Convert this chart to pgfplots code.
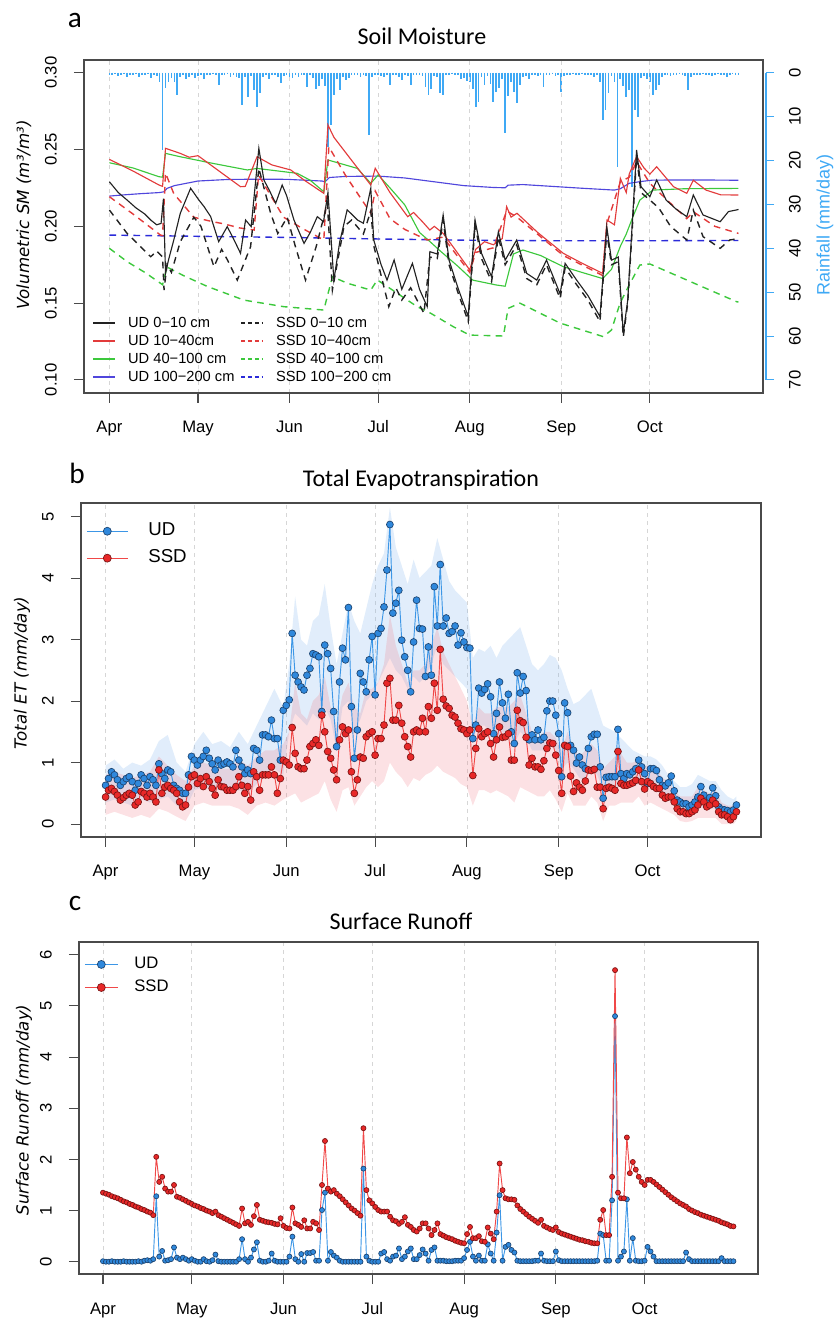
\documentclass[border=0pt]{standalone}
\usepackage{fontspec}
\setmainfont{Liberation Sans}
\newfontfamily\carl{Carlito}
\newfontfamily\dvs{DejaVu Sans}
\usepackage{pgfplots}
\pgfplotsset{compat=1.18}
\usepackage{pgfplotstable}

\definecolor{boxc}{HTML}{4A4A4A}
\definecolor{gridc}{HTML}{D6D6D6}
\definecolor{rainc}{HTML}{3FA9F5}
\definecolor{smblack}{HTML}{222222}
\definecolor{smred}{HTML}{E23B3B}
\definecolor{smgreen}{HTML}{3CC83C}
\definecolor{smblue}{HTML}{5046DC}
\definecolor{smdblue}{HTML}{2B2BD9}
\definecolor{udfill}{HTML}{2F88DC}
\definecolor{udedge}{HTML}{1D4470}
\definecolor{udline}{HTML}{3C96E6}
\definecolor{ssdfill}{HTML}{E82828}
\definecolor{ssdedge}{HTML}{7A1414}
\definecolor{ssdline}{HTML}{F04848}
\definecolor{udband}{HTML}{78AFEB}
\definecolor{ssdband}{HTML}{F07882}

\pgfplotsset{
  rbase/.style={
    scale only axis, anchor=south west,
    axis line style={boxc, line width=1pt},
    tick align=outside, major tick length=7.5pt,
    tick style={boxc, line width=0.8pt},
    xtick pos=bottom, ytick pos=left,
    xtick={0,30,61,91,122,153,183},
    xticklabels={Apr,May,Jun,Jul,Aug,Sep,Oct},
    xmajorgrids, major grid style={gridc, dash pattern=on 3pt off 3pt, line width=0.6pt},
    ticklabel style={font=\fontsize{12.5}{14}\selectfont},
    xticklabel style={anchor=base, yshift=-22.5pt},
    yticklabel style={anchor=base, xshift=-13pt, rotate=90},
  },
  udp/.style={color=udline, line width=0.7pt, mark=*, mark options={fill=udfill, draw=udedge, line width=0.5pt, solid}},
  ssdp/.style={color=ssdline, line width=0.7pt, mark=*, mark options={fill=ssdfill, draw=ssdedge, line width=0.5pt, solid}},
  lgsol/.style={legend image code/.code={\draw[draw=#1, color=#1, line width=1.4pt, solid] (0pt,0pt) -- (16pt,0pt);}},
  lgdas/.style={legend image code/.code={\draw[draw=#1, color=#1, line width=1.4pt, dash pattern=on 2.8pt off 2.3pt] (0pt,0pt) -- (16pt,0pt);}},
  lgmk/.style n args={4}{legend image code/.code={\draw[draw=#1, line width=0.8pt] (0pt,0pt) -- (#4,0pt); \path[fill=#2, draw=#3, line width=0.5pt] (0.5*#4,0pt) circle (3.0pt);}},
  lgbox/.style={
    at={(63pt,696pt)}, anchor=south west, scale only axis,
    width=509.25pt, height=249.75pt, hide axis,
    xmin=-8.6, xmax=221.3, ymin=0.0915, ymax=0.3083,
    legend cell align=left,
    legend style={anchor=north west, draw=none, fill=none, inner sep=0pt,
      font=\fontsize{11}{13}\selectfont, row sep=0pt,
      nodes={inner ysep=1.5pt, inner xsep=3.5pt, text height=8pt, text depth=2.5pt},
      /tikz/every odd column/.append style={column sep=6pt}},
  },
}

\pgfplotstableread{
d r
0 0.5
1 0.6
2 0.4
3 0.8
4 0.5
5 0.3
6 1.0
7 0.5
8 0.6
9 0.4
10 0.9
11 0.5
12 0.6
13 0.4
14 1.2
15 0.5
16 0.8
17 2.0
18 17.5
19 3.5
20 2.2
21 1.3
22 2.0
23 5.1
24 1.0
25 0.5
26 1.5
27 0.9
28 0.5
29 1.2
30 0.8
31 0.5
32 1.5
33 0.5
34 0.6
35 0.4
36 0.5
37 2.8
38 0.6
39 0.5
40 0.4
41 1.0
42 0.5
43 0.9
44 1.2
45 7.4
46 1.0
47 5.5
48 0.8
49 4.0
50 7.7
51 4.7
52 1.0
53 0.5
54 1.5
55 0.6
56 0.5
57 1.0
58 2.4
59 0.8
60 0.5
61 0.9
62 1.3
63 0.6
64 1.0
65 0.5
66 0.6
67 3.2
68 0.5
69 1.2
70 3.6
71 3.0
72 1.5
73 3.0
74 17.0
75 12.0
76 5.0
77 1.5
78 4.0
79 1.0
80 1.7
81 1.2
82 0.5
83 0.6
84 0.5
85 1.0
86 0.5
87 0.8
88 14.2
89 1.0
90 0.5
91 0.6
92 0.8
93 1.0
94 0.5
95 2.8
96 0.6
97 0.5
98 1.0
99 1.7
100 0.5
101 0.8
102 2.8
103 0.5
104 0.6
105 0.5
106 0.8
107 3.2
108 5.1
109 3.6
110 0.8
111 1.0
112 4.7
113 5.1
114 0.5
115 0.6
116 0.4
117 0.5
118 0.6
119 1.5
120 1.2
121 1.8
122 2.0
123 3.6
124 7.7
125 6.6
126 1.0
127 2.8
128 0.8
129 2.5
130 6.6
131 4.3
132 3.5
133 1.5
134 13.8
135 5.2
136 2.0
137 4.5
138 7.0
139 2.8
140 1.0
141 0.8
142 1.5
143 0.6
144 0.5
145 0.8
146 0.5
147 3.2
148 0.6
149 0.5
150 0.4
151 0.8
152 0.5
153 4.3
154 0.8
155 0.5
156 0.6
157 0.4
158 0.5
159 0.6
160 0.4
161 0.5
162 0.6
163 0.5
164 1.0
165 0.6
166 2.0
167 10.8
168 8.5
169 4.7
170 0.8
171 2.0
172 21.5
173 1.5
174 3.0
175 5.5
176 4.0
177 26.0
178 8.5
179 10.0
180 1.2
181 0.8
182 1.5
183 2.0
184 5.1
185 4.0
186 2.8
187 1.0
188 0.6
189 0.5
190 0.8
191 0.5
192 0.6
193 0.4
194 0.5
195 0.8
196 4.0
197 1.0
198 0.5
199 0.6
200 0.5
201 0.4
202 0.5
203 0.6
204 0.8
205 0.5
206 0.4
207 0.6
208 0.5
209 0.9
210 0.5
211 0.4
212 0.6
213 0.5
}\raintab

\pgfplotstableread{
d ud ssd
0 0.63 0.44
1 0.74 0.55
2 0.85 0.58
3 0.80 0.53
4 0.72 0.47
5 0.63 0.39
6 0.69 0.43
7 0.74 0.47
8 0.77 0.50
9 0.69 0.47
10 0.55 0.31
11 0.66 0.36
12 0.80 0.53
13 0.74 0.50
14 0.63 0.44
15 0.77 0.50
16 0.72 0.44
17 0.63 0.36
18 0.98 0.88
19 0.82 0.50
20 0.74 0.60
21 0.88 0.63
22 0.85 0.58
23 0.63 0.55
24 0.58 0.50
25 0.55 0.36
26 0.50 0.28
27 0.50 0.31
28 0.80 0.60
29 1.10 0.77
30 1.04 0.80
31 0.96 0.66
32 1.04 0.74
33 1.10 0.61
34 1.20 0.77
35 1.07 0.69
36 0.98 0.58
37 0.88 0.47
38 1.04 0.72
39 0.96 0.61
40 0.98 0.60
41 1.01 0.55
42 0.98 0.55
43 0.93 0.55
44 1.20 0.61
45 1.04 0.77
46 0.93 0.63
47 0.82 0.50
48 0.88 0.61
49 0.82 0.39
50 1.23 0.85
51 1.20 0.77
52 1.04 0.55
53 1.45 0.80
54 1.45 0.80
55 1.42 0.80
56 1.69 0.93
57 1.39 0.80
58 1.39 0.50
59 1.04 0.74
60 1.85 1.04
61 1.93 1.01
62 2.02 0.96
63 3.10 1.57
64 2.42 1.15
65 2.31 0.93
66 2.23 0.90
67 2.18 0.90
68 2.42 1.04
69 2.53 1.26
70 2.77 1.31
71 2.75 1.37
72 2.72 1.28
73 1.83 1.77
74 2.91 1.50
75 2.77 1.18
76 2.53 1.07
77 1.83 0.88
78 1.26 0.72
79 2.31 1.37
80 2.86 1.58
81 2.67 1.47
82 3.52 1.53
83 1.91 0.85
84 1.07 0.50
85 1.53 0.72
86 2.45 1.09
87 2.31 1.07
88 2.15 1.42
89 2.67 1.47
90 3.05 1.50
91 2.10 1.12
92 3.10 1.39
93 3.18 1.39
94 3.53 1.61
95 4.13 2.29
96 4.87 2.37
97 3.43 1.69
98 3.59 1.69
99 3.80 1.93
100 2.99 1.64
101 2.72 1.42
102 2.50 1.26
103 2.15 1.09
104 2.96 1.50
105 3.64 1.53
106 3.18 1.50
107 3.17 1.72
108 2.40 1.50
109 2.88 1.91
110 2.42 1.72
111 3.86 2.29
112 3.22 1.85
113 4.22 2.84
114 3.22 2.03
115 3.35 1.92
116 3.10 1.88
117 3.13 1.77
118 3.22 1.74
119 2.91 1.64
120 3.11 1.55
121 2.96 1.53
122 2.87 1.47
123 2.86 1.53
124 1.39 0.79
125 1.61 1.23
126 2.21 1.55
127 2.13 1.42
128 2.19 1.47
129 2.28 1.50
130 2.07 1.31
131 1.47 1.09
132 1.80 1.37
133 2.31 1.58
134 1.97 1.41
135 1.72 1.42
136 2.11 1.47
137 1.50 1.04
138 1.31 1.04
139 2.46 1.85
140 2.13 1.68
141 2.40 1.65
142 2.17 1.41
143 1.37 0.96
144 1.45 1.07
145 1.37 0.93
146 1.53 0.93
147 1.37 0.89
148 1.41 1.03
149 1.84 1.23
150 2.00 1.32
151 2.00 1.31
152 1.77 1.12
153 1.47 0.87
154 0.77 0.50
155 1.97 1.28
156 1.81 1.26
157 1.28 0.78
158 1.20 0.53
159 0.99 0.67
160 1.09 0.60
161 0.96 0.55
162 0.90 0.70
163 1.23 0.88
164 1.42 0.87
165 1.46 0.89
166 1.46 0.60
167 0.93 0.60
168 0.42 0.25
169 0.76 0.58
170 0.77 0.60
171 0.77 0.58
172 0.77 0.55
173 1.54 1.18
174 0.82 0.66
175 0.74 0.63
176 0.82 0.63
177 0.80 0.65
178 0.85 0.67
179 0.90 0.71
180 1.04 0.88
181 0.93 0.69
182 0.82 0.57
183 0.66 0.69
184 0.90 0.66
185 0.90 0.61
186 0.87 0.58
187 0.72 0.58
188 0.63 0.47
189 0.62 0.42
190 0.67 0.44
191 0.78 0.44
192 0.54 0.36
193 0.39 0.25
194 0.36 0.20
195 0.33 0.20
196 0.33 0.17
197 0.28 0.17
198 0.31 0.20
199 0.36 0.23
200 0.44 0.31
201 0.61 0.42
202 0.47 0.36
203 0.36 0.28
204 0.43 0.31
205 0.59 0.39
206 0.46 0.33
207 0.28 0.20
208 0.24 0.15
209 0.23 0.15
210 0.22 0.12
211 0.20 0.07
212 0.23 0.12
213 0.31 0.20
}\ettab

\pgfplotstableread{
d ud ssd
0 0.01 1.35
1 0.00 1.33
2 0.00 1.31
3 0.01 1.28
4 0.00 1.26
5 0.00 1.24
6 0.00 1.21
7 0.01 1.18
8 0.00 1.16
9 0.00 1.13
10 0.00 1.11
11 0.00 1.08
12 0.01 1.06
13 0.00 1.03
14 0.02 1.01
15 0.03 0.98
16 0.02 0.96
17 0.05 0.91
18 1.28 2.05
19 0.10 1.56
20 0.21 1.66
21 0.02 1.43
22 0.03 1.37
23 0.05 1.37
24 0.28 1.50
25 0.08 1.27
26 0.05 1.25
27 0.08 1.22
28 0.05 1.19
29 0.02 1.16
30 0.05 1.13
31 0.02 1.10
32 0.00 1.08
33 0.00 1.05
34 0.05 1.03
35 0.01 1.00
36 0.00 0.98
37 0.03 0.95
38 0.14 0.98
39 0.01 0.91
40 0.00 0.88
41 0.00 0.85
42 0.00 0.82
43 0.00 0.79
44 0.00 0.76
45 0.00 0.73
46 0.05 0.70
47 0.44 1.04
48 0.05 0.75
49 0.00 0.78
50 0.08 0.72
51 0.24 0.89
52 0.38 1.11
53 0.02 0.82
54 0.00 0.80
55 0.00 0.78
56 0.02 0.77
57 0.16 0.76
58 0.02 0.74
59 0.00 0.73
60 0.00 0.85
61 0.00 0.70
62 0.00 0.66
63 0.10 0.65
64 0.49 1.06
65 0.05 0.75
66 0.00 0.72
67 0.15 0.68
68 0.00 0.81
69 0.17 0.65
70 0.17 0.65
71 0.19 0.78
72 0.02 0.75
73 0.02 0.62
74 1.01 1.50
75 1.35 2.36
76 0.02 1.43
77 0.19 1.37
78 0.12 1.40
79 0.08 1.33
80 0.02 1.28
81 0.00 1.22
82 0.00 1.16
83 0.00 1.10
84 0.00 1.04
85 0.00 1.00
86 0.00 0.95
87 0.00 0.90
88 1.82 2.61
89 0.10 1.40
90 0.02 1.20
91 0.00 1.14
92 0.00 1.07
93 0.00 1.01
94 0.16 0.98
95 0.19 0.98
96 0.05 0.98
97 0.02 0.88
98 0.10 0.81
99 0.12 0.79
100 0.26 0.74
101 0.05 0.78
102 0.10 0.87
103 0.20 0.72
104 0.26 0.68
105 0.05 0.62
106 0.05 0.59
107 0.13 0.65
108 0.24 0.75
109 0.16 0.75
110 0.02 0.65
111 0.23 0.52
112 0.28 0.62
113 0.02 0.75
114 0.02 0.54
115 0.02 0.51
116 0.01 0.48
117 0.01 0.46
118 0.01 0.44
119 0.02 0.41
120 0.02 0.39
121 0.02 0.37
122 0.07 0.36
123 0.23 0.54
124 0.39 0.68
125 0.10 0.46
126 0.02 0.46
127 0.12 0.50
128 0.02 0.40
129 0.02 0.39
130 0.34 0.67
131 0.16 0.55
132 0.02 0.44
133 0.57 0.98
134 1.30 1.92
135 0.02 1.40
136 0.29 1.24
137 0.33 1.22
138 0.23 1.22
139 0.18 1.21
140 0.02 1.10
141 0.01 1.03
142 0.01 0.98
143 0.01 0.93
144 0.01 0.88
145 0.01 0.84
146 0.02 0.80
147 0.02 0.76
148 0.16 0.82
149 0.02 0.70
150 0.01 0.67
151 0.01 0.64
152 0.01 0.62
153 0.20 0.67
154 0.03 0.58
155 0.01 0.55
156 0.01 0.53
157 0.01 0.51
158 0.01 0.49
159 0.01 0.47
160 0.01 0.45
161 0.01 0.43
162 0.01 0.42
163 0.01 0.40
164 0.01 0.39
165 0.01 0.37
166 0.01 0.36
167 0.02 0.36
168 0.55 0.82
169 0.52 1.01
170 0.02 0.52
171 0.02 0.52
172 1.20 1.66
173 4.80 5.70
174 0.02 1.35
175 0.10 1.24
176 0.20 1.24
177 1.22 2.43
178 0.02 1.73
179 0.46 1.95
180 0.02 1.80
181 0.01 1.66
182 0.01 1.56
183 0.02 1.50
184 0.29 1.60
185 0.20 1.60
186 0.10 1.56
187 0.01 1.51
188 0.01 1.46
189 0.01 1.41
190 0.01 1.36
191 0.01 1.31
192 0.01 1.26
193 0.01 1.22
194 0.01 1.18
195 0.01 1.14
196 0.01 1.11
197 0.18 1.08
198 0.05 1.03
199 0.01 1.00
200 0.01 0.97
201 0.01 0.95
202 0.01 0.92
203 0.01 0.90
204 0.01 0.88
205 0.01 0.86
206 0.01 0.84
207 0.01 0.82
208 0.01 0.80
209 0.07 0.77
210 0.01 0.75
211 0.01 0.73
212 0.01 0.70
213 0.01 0.69
}\rotab

\begin{document}
\begin{tikzpicture}
\path[use as bounding box] (0,0) rectangle (627pt,990.75pt);

% ---------------- panel a : rainfall (right axis) ----------------
\begin{axis}[
  at={(63pt,696pt)}, anchor=south west, scale only axis,
  width=509.25pt, height=249.75pt,
  xmin=-8.6, xmax=221.3, ymin=-2.905, ymax=72.975, y dir=reverse,
  hide x axis, axis y line*=right, axis y line shift=2.25pt,
  y axis line style={draw=none},
  ytick={0,10,20,30,40,50,60,70}, yticklabels={0,10,20,30,40,50,60,70},
  tick align=outside, major tick length=6pt,
  ytick style={rainc, line width=0.8pt},
  yticklabel style={font=\fontsize{12.5}{14}\selectfont, anchor=base, xshift=20pt, rotate=90},
  clip=false,
]
\addplot[ycomb, rainc, line width=1.3pt, mark=none] table[x=d, y=r] {\raintab};
\draw[rainc, line width=0.8pt] ([xshift=2.25pt]axis cs:221.3,0) -- ([xshift=2.25pt]axis cs:221.3,70);
\end{axis}

% ---------------- panel a : soil moisture ----------------
\begin{axis}[rbase,
  at={(63pt,696pt)}, width=509.25pt, height=249.75pt,
  xmin=-8.6, xmax=221.3, ymin=0.0915, ymax=0.3083,
  ytick={0.10,0.15,0.20,0.25,0.30}, yticklabels={0.10,0.15,0.20,0.25,0.30},
]
% UD 100-200
\addplot[color=smblue, line width=0.85pt] coordinates {(0,0.2197)(5,0.2205)(10,0.2212)(17,0.222)(18.5,0.2225)(19.5,0.2247)(22,0.2265)(26,0.228)(30,0.2295)(40,0.2305)(50,0.2307)(60,0.2306)(72,0.2295)(73,0.229)(74.5,0.2318)(80,0.2325)(91,0.2327)(100,0.2315)(110,0.229)(120,0.2265)(130,0.2253)(134,0.2251)(135,0.2268)(140,0.2272)(150,0.226)(160,0.2248)(171,0.2236)(173,0.2245)(176,0.228)(180,0.2292)(184,0.2301)(200,0.2302)(213,0.2300)};
% SSD 100-200
\addplot[color=smdblue, line width=1.05pt, dash pattern=on 5pt off 4pt] coordinates {(0,0.1943)(30,0.1935)(60,0.1928)(90,0.1918)(120,0.191)(150,0.1906)(180,0.1906)(213,0.1908)};
% UD 40-100
\addplot[color=smgreen, line width=0.85pt] coordinates {(0,0.2414)(8,0.238)(16.8,0.2323)(18,0.232)(19,0.2475)(24,0.2453)(35,0.241)(46.7,0.2367)(50,0.2377)(63.6,0.2345)(68,0.230)(72.6,0.2225)(74,0.2432)(84,0.2377)(88.5,0.2280)(91,0.2335)(95,0.225)(100,0.214)(105,0.196)(108,0.191)(112,0.184)(118,0.174)(123,0.165)(131,0.1618)(134,0.161)(136.8,0.182)(140,0.1846)(146,0.181)(153.7,0.1737)(160,0.170)(167,0.166)(170,0.172)(173,0.187)(175,0.195)(177,0.205)(179.6,0.2171)(184,0.2236)(195,0.2245)(213,0.2247)};
% SSD 40-100
\addplot[color=smgreen, line width=1.05pt, dash pattern=on 5pt off 4pt] coordinates {(0,0.1857)(6,0.177)(12,0.170)(18,0.162)(19.5,0.1735)(25,0.168)(33,0.161)(45.5,0.152)(59,0.1477)(72.6,0.1455)(75.5,0.1672)(80.5,0.163)(88.5,0.1585)(90.7,0.1651)(97.5,0.1564)(104.2,0.1477)(108.8,0.1434)(116.4,0.1347)(122,0.1292)(133.4,0.1286)(135,0.1466)(139,0.150)(152.6,0.137)(167.2,0.1282)(170,0.1325)(172.9,0.150)(175.7,0.1607)(179.6,0.1748)(183,0.1755)(212.4,0.1509)(213,0.1507)};
% UD 10-40
\addplot[color=smred, line width=0.85pt] coordinates {(0,0.2436)(8,0.236)(16.8,0.2269)(18,0.226)(19,0.2508)(24,0.2475)(27,0.245)(30,0.246)(44.4,0.2258)(46,0.226)(50,0.2453)(55,0.240)(61.4,0.2367)(66,0.230)(72.6,0.2215)(74,0.266)(76,0.258)(80,0.248)(84,0.238)(88.5,0.2269)(90,0.2378)(95,0.222)(101,0.2063)(103,0.209)(106,0.203)(108.5,0.1976)(110,0.200)(113,0.1954)(117,0.185)(122,0.1716)(124,0.185)(127,0.190)(130,0.188)(133,0.192)(134.5,0.2128)(136,0.206)(138,0.2085)(145,0.196)(153.7,0.1824)(160,0.176)(167,0.1694)(168.5,0.2041)(171,0.201)(173,0.2312)(175,0.222)(176,0.234)(178.5,0.2454)(181,0.238)(183,0.234)(185.3,0.2388)(191,0.2258)(195.5,0.2215)(197.7,0.230)(202,0.2236)(207,0.2205)(213,0.2204)};
% SSD 10-40
\addplot[color=smred, line width=1.05pt, dash pattern=on 5pt off 4pt] coordinates {(0,0.2193)(8,0.208)(17.3,0.1943)(18,0.194)(19,0.2347)(21.8,0.2213)(28.6,0.2059)(35,0.203)(38.8,0.2016)(44,0.199)(49,0.1976)(50.5,0.2334)(54,0.222)(59,0.2059)(65,0.199)(72.6,0.1911)(74.3,0.2518)(80,0.233)(88.5,0.2085)(90,0.223)(95,0.205)(100,0.198)(107.6,0.1911)(113,0.193)(122,0.170)(124,0.183)(130,0.186)(134.5,0.210)(138,0.206)(153.7,0.181)(167,0.168)(168.5,0.202)(173,0.229)(176,0.232)(178.5,0.242)(183,0.228)(190,0.215)(195.5,0.205)(197.7,0.2095)(205,0.200)(213,0.1954)};
% SSD 0-10
\addplot[color=smblack, line width=1.05pt, dash pattern=on 5pt off 4pt] coordinates {(0,0.2106)(6,0.1954)(14,0.1802)(16,0.184)(18,0.1800)(18.5,0.1585)(19.5,0.175)(21,0.170)(24,0.190)(28.6,0.2059)(31,0.200)(35.4,0.1737)(38,0.185)(40,0.178)(43.3,0.1650)(47.8,0.1867)(50.6,0.2378)(54.6,0.2085)(57,0.1954)(60.2,0.2059)(63,0.1867)(66.4,0.1650)(70,0.1867)(73.8,0.2150)(75.5,0.1585)(79.4,0.1998)(82,0.2041)(86,0.195)(88.5,0.210)(89.6,0.1867)(94.6,0.1477)(97,0.160)(99,0.152)(102,0.160)(106.5,0.1434)(108.5,0.180)(111,0.179)(113,0.204)(115,0.175)(118,0.157)(121.5,0.138)(123.8,0.201)(126,0.179)(129.4,0.164)(131.7,0.193)(134,0.175)(137.9,0.188)(141.3,0.166)(144.7,0.162)(148,0.175)(152.6,0.153)(154.3,0.173)(158.2,0.162)(162,0.152)(166.1,0.138)(168.4,0.196)(170,0.175)(172.3,0.177)(174,0.128)(175.5,0.150)(178.5,0.245)(180,0.222)(183,0.2171)(186,0.212)(190,0.200)(195.5,0.1911)(197.7,0.2106)(201,0.1933)(206.8,0.1857)(210,0.1911)(213,0.192)};
% UD 0-10
\addplot[color=smblack, line width=0.85pt] coordinates {(0,0.229)(3,0.222)(6,0.2171)(9,0.212)(12,0.208)(14,0.2041)(16,0.201)(17.5,0.2019)(18.3,0.218)(19,0.1694)(20,0.178)(21.8,0.1911)(24,0.2085)(27.5,0.2248)(30.3,0.2171)(32,0.213)(34.3,0.2063)(37,0.190)(39.9,0.1998)(42,0.192)(44.4,0.1824)(46.1,0.2041)(48,0.1998)(50.6,0.2508)(52.3,0.2302)(54,0.224)(56.3,0.2150)(58.5,0.2269)(60,0.220)(62.5,0.2041)(65.9,0.1889)(68,0.196)(70.4,0.2063)(72.5,0.203)(74,0.222)(76,0.1650)(78,0.190)(80.5,0.2107)(82,0.208)(84,0.2041)(86,0.202)(88.5,0.2248)(89.5,0.1911)(92,0.175)(94,0.165)(96.4,0.1781)(99,0.159)(102.6,0.1759)(105,0.159)(107.6,0.1477)(108.5,0.1835)(111,0.182)(113,0.2074)(115,0.178)(118,0.160)(121.5,0.1412)(123.8,0.2041)(126,0.1824)(129.4,0.1672)(131.7,0.1965)(134,0.178)(137.9,0.1911)(141.3,0.1694)(144.7,0.165)(148,0.178)(152.6,0.156)(154.3,0.1759)(158.2,0.165)(162,0.155)(166.1,0.1412)(168.4,0.1998)(170,0.178)(172.3,0.180)(174,0.1303)(175.5,0.152)(178.5,0.2497)(180,0.2258)(183,0.2193)(185.3,0.2302)(188.5,0.2171)(192,0.211)(195.5,0.2063)(197.7,0.2204)(201,0.2074)(206.8,0.2030)(209.6,0.2096)(212.4,0.2107)(213,0.211)};
\end{axis}

% panel a legend, first column (UD)
\begin{axis}[lgbox, legend style={at={(0.0118,0.237)}}]
\addlegendimage{lgsol=smblack}\addlegendentry{UD 0−10 cm}
\addlegendimage{lgsol=smred}\addlegendentry{UD 10−40cm}
\addlegendimage{lgsol=smgreen}\addlegendentry{UD 40−100 cm}
\addlegendimage{lgsol=smblue}\addlegendentry{UD 100−200 cm}
\end{axis}
% panel a legend, second column (SSD)
\begin{axis}[lgbox, legend style={at={(0.2297,0.237)}}]
\addlegendimage{lgdas=smblack}\addlegendentry{SSD 0−10 cm}
\addlegendimage{lgdas=smred}\addlegendentry{SSD 10−40cm}
\addlegendimage{lgdas=smgreen}\addlegendentry{SSD 40−100 cm}
\addlegendimage{lgdas=smdblue}\addlegendentry{SSD 100−200 cm}
\end{axis}

% ---------------- panel b : total ET ----------------
\begin{axis}[rbase,
  at={(60.75pt,363pt)}, width=510pt, height=250.5pt,
  xmin=-8.3, xmax=221.3, ymin=-0.21, ymax=5.22,
  ytick={0,1,2,3,4,5}, yticklabels={0,1,2,3,4,5},
  legend cell align=left,
  legend style={at={(0.00735,0.9566)}, anchor=north west, draw=none, fill=none, inner sep=0pt,
    font=\fontsize{14}{16}\selectfont, row sep=0pt,
    nodes={inner ysep=3.6pt, inner xsep=3pt, text height=10pt, text depth=3pt},
    /tikz/every odd column/.append style={column sep=12pt}},
]
\addplot[fill=udband, draw=none, fill opacity=0.22, forget plot] coordinates {
(0,0.95)(3,1.05)(6,0.9)(9,1.0)(12,0.95)(15,1.05)(18,1.35)(21,1.45)(24,1.0)(27,0.85)(30,1.3)(33,1.5)(36,1.3)(39,1.35)(42,1.25)(45,1.5)(48,1.3)(51,1.6)(54,1.9)(57,2.2)(60,1.9)(62,2.6)(64,3.7)(66,3.0)(68,2.9)(70,3.3)(72,3.4)(74,3.9)(76,3.2)(78,2.6)(80,3.1)(82,3.6)(84,3.3)(86,3.1)(88,3.5)(90,3.9)(92,4.2)(94,4.4)(96,5.15)(98,4.5)(100,4.2)(102,3.9)(104,4.3)(106,4.0)(108,4.1)(110,4.2)(112,4.65)(114,4.3)(116,3.95)(118,3.8)(120,3.7)(122,3.6)(124,2.7)(126,2.85)(128,2.8)(130,2.9)(132,2.7)(134,2.9)(136,3.0)(138,3.1)(140,3.2)(142,2.9)(144,2.6)(146,2.5)(148,2.6)(150,2.75)(152,2.7)(154,2.5)(156,2.2)(158,1.95)(160,2.0)(162,2.1)(164,2.2)(166,1.9)(168,1.6)(170,1.55)(172,1.5)(174,1.4)(176,1.3)(178,1.2)(180,1.15)(182,1.1)(184,1.1)(186,1.05)(188,0.95)(190,0.8)(192,0.7)(194,0.6)(196,0.6)(198,0.65)(200,0.8)(202,0.75)(204,0.7)(206,0.7)(208,0.55)(210,0.45)(212,0.4)(213,0.45)
(213,0.15)(212,0.1)(210,0.1)(208,0.15)(206,0.25)(204,0.25)(202,0.25)(200,0.3)(198,0.2)(196,0.2)(194,0.25)(192,0.35)(190,0.45)(188,0.45)(186,0.55)(184,0.6)(182,0.55)(180,0.65)(178,0.6)(176,0.6)(174,0.6)(172,0.6)(170,0.6)(168,0.55)(166,0.8)(164,0.9)(162,0.7)(160,0.75)(158,0.9)(156,1.0)(154,0.9)(152,1.2)(150,1.3)(148,1.2)(146,1.2)(144,1.2)(142,1.4)(140,1.5)(138,1.3)(136,1.4)(134,1.5)(132,1.4)(130,1.5)(128,1.6)(126,1.6)(124,1.4)(122,2.2)(120,2.3)(118,2.4)(116,2.5)(114,2.6)(112,2.9)(110,2.6)(108,2.4)(106,2.3)(104,2.4)(102,2.2)(100,2.4)(98,2.5)(96,2.7)(94,2.5)(92,2.3)(90,2.1)(88,2.0)(86,1.7)(84,1.5)(82,2.0)(80,1.9)(78,1.2)(76,1.7)(74,1.9)(72,1.7)(70,1.8)(68,1.6)(66,1.7)(64,1.8)(62,1.5)(60,0.8)(57,0.9)(54,0.8)(51,0.65)(48,0.5)(45,0.55)(42,0.5)(39,0.55)(36,0.55)(33,0.6)(30,0.55)(27,0.25)(24,0.3)(21,0.45)(18,0.4)(15,0.35)(12,0.4)(9,0.3)(6,0.35)(3,0.4)(0,0.35)};
\addplot[fill=ssdband, draw=none, fill opacity=0.22, forget plot] coordinates {
(0,0.8)(3,0.85)(6,0.8)(9,0.75)(12,0.8)(15,0.85)(18,1.1)(21,0.95)(24,0.8)(27,0.7)(30,0.95)(33,1.0)(36,0.95)(39,0.9)(42,0.9)(45,1.05)(48,0.95)(51,1.1)(54,1.2)(57,1.2)(60,1.3)(62,1.5)(64,2.3)(66,1.8)(68,1.7)(70,2.0)(72,2.1)(74,2.4)(76,1.9)(78,1.6)(80,2.1)(82,2.3)(84,1.9)(86,1.8)(88,2.2)(90,2.2)(92,2.3)(94,2.6)(96,3.4)(98,2.9)(100,2.6)(102,2.3)(104,2.5)(106,2.5)(108,2.6)(110,2.9)(112,3.2)(114,2.8)(116,2.6)(118,2.4)(120,2.2)(122,2.0)(124,1.6)(126,1.9)(128,1.8)(130,1.8)(132,1.9)(134,1.9)(136,1.9)(138,2.0)(140,2.1)(142,1.8)(144,1.5)(146,1.4)(148,1.5)(150,1.5)(152,1.4)(154,1.2)(156,1.5)(158,1.2)(160,1.1)(162,1.2)(164,1.3)(166,1.2)(168,0.9)(170,1.0)(172,1.1)(174,1.15)(176,1.0)(178,1.0)(180,1.05)(182,0.95)(184,0.95)(186,0.9)(188,0.75)(190,0.7)(192,0.55)(194,0.45)(196,0.45)(198,0.45)(200,0.6)(202,0.55)(204,0.5)(206,0.55)(208,0.35)(210,0.3)(212,0.3)(213,0.35)
(213,0.05)(212,0.0)(210,0.0)(208,0.0)(206,0.1)(204,0.1)(202,0.1)(200,0.1)(198,0.05)(196,0.03)(194,0.05)(192,0.15)(190,0.2)(188,0.25)(186,0.3)(184,0.35)(182,0.3)(180,0.45)(178,0.35)(176,0.35)(174,0.35)(172,0.3)(170,0.3)(168,0.05)(166,0.35)(164,0.45)(162,0.3)(160,0.3)(158,0.3)(156,0.5)(154,0.2)(152,0.4)(150,0.55)(148,0.45)(146,0.45)(144,0.5)(142,0.55)(140,0.6)(138,0.35)(136,0.45)(134,0.5)(132,0.55)(130,0.5)(128,0.55)(126,0.55)(124,0.3)(122,0.6)(120,0.65)(118,0.75)(116,0.8)(114,0.85)(112,0.95)(110,0.85)(108,0.8)(106,0.7)(104,0.75)(102,0.6)(100,0.75)(98,0.85)(96,1.0)(94,0.7)(92,0.6)(90,0.7)(88,0.6)(86,0.45)(84,0.3)(82,0.6)(80,0.55)(78,0.2)(76,0.4)(74,0.7)(72,0.5)(70,0.45)(68,0.4)(66,0.35)(64,0.5)(62,0.45)(60,0.4)(57,0.3)(54,0.35)(51,0.3)(48,0.15)(45,0.25)(42,0.3)(39,0.3)(36,0.3)(33,0.35)(30,0.3)(27,0.05)(24,0.12)(21,0.2)(18,0.25)(15,0.1)(12,0.15)(9,0.1)(6,0.15)(3,0.2)(0,0.15)};
\addplot[udp, mark size=2.6pt, forget plot] table[x=d, y=ud] {\ettab};
\addplot[ssdp, mark size=2.6pt, forget plot] table[x=d, y=ssd] {\ettab};
\addlegendimage{lgmk={udline}{udfill}{udedge}{30.75pt}}\addlegendentry{UD}
\addlegendimage{lgmk={ssdline}{ssdfill}{ssdedge}{30.75pt}}\addlegendentry{SSD}
\end{axis}

% ---------------- panel c : surface runoff ----------------
\begin{axis}[rbase,
  at={(59.25pt,35.25pt)}, width=509.25pt, height=249pt,
  xmin=-8.1, xmax=221.3, ymin=-0.24, ymax=6.25,
  ytick={0,1,2,3,4,5,6}, yticklabels={0,1,2,3,4,5,6},
  legend cell align=left,
  legend style={at={(0.0074,0.968)}, anchor=north west, draw=none, fill=none, inner sep=0pt,
    font=\fontsize{12.5}{14}\selectfont, row sep=0pt,
    nodes={inner ysep=2.8pt, inner xsep=3pt, text height=9pt, text depth=2.7pt},
    /tikz/every odd column/.append style={column sep=9pt}},
]
\addplot[udp, mark size=1.9pt, forget plot] table[x=d, y=ud] {\rotab};
\addplot[ssdp, mark size=1.9pt, forget plot] table[x=d, y=ssd] {\rotab};
\addlegendimage{lgmk={udline}{udfill}{udedge}{24.75pt}}\addlegendentry{UD}
\addlegendimage{lgmk={ssdline}{ssdfill}{ssdedge}{24.75pt}}\addlegendentry{SSD}
\end{axis}

% ---------------- titles, labels ----------------
\node[font=\carl\fontsize{22}{24}\selectfont] at (56.25pt,975.75pt) {a};
\node[font=\carl\fontsize{18}{20}\selectfont] at (316.5pt,963.75pt) {Soil Moisture};
\node[rotate=90, font=\dvs\itshape\fontsize{12.5}{14}\selectfont] at (18pt,829.5pt) {Volumetric SM (m³/m³)};
\node[rotate=90, text=rainc, font=\fontsize{13.5}{15}\selectfont] at (618.75pt,822pt) {Rainfall (mm/day)};

\node[font=\carl\fontsize{22}{24}\selectfont] at (57.75pt,636pt) {b};
\node[font=\carl\fontsize{18}{20}\selectfont] at (315.75pt,630.75pt) {Total Evapotranspiration};
\node[rotate=90, font=\dvs\itshape\fontsize{12.5}{14}\selectfont] at (16.5pt,486pt) {Total ET (mm/day)};

\node[font=\carl\fontsize{22}{24}\selectfont] at (56.25pt,313.5pt) {c};
\node[font=\carl\fontsize{18}{20}\selectfont] at (300.75pt,300pt) {Surface Runoff};
\node[rotate=90, font=\dvs\itshape\fontsize{12.5}{14}\selectfont] at (18pt,158.25pt) {Surface Runoff (mm/day)};
\end{tikzpicture}
\end{document}
